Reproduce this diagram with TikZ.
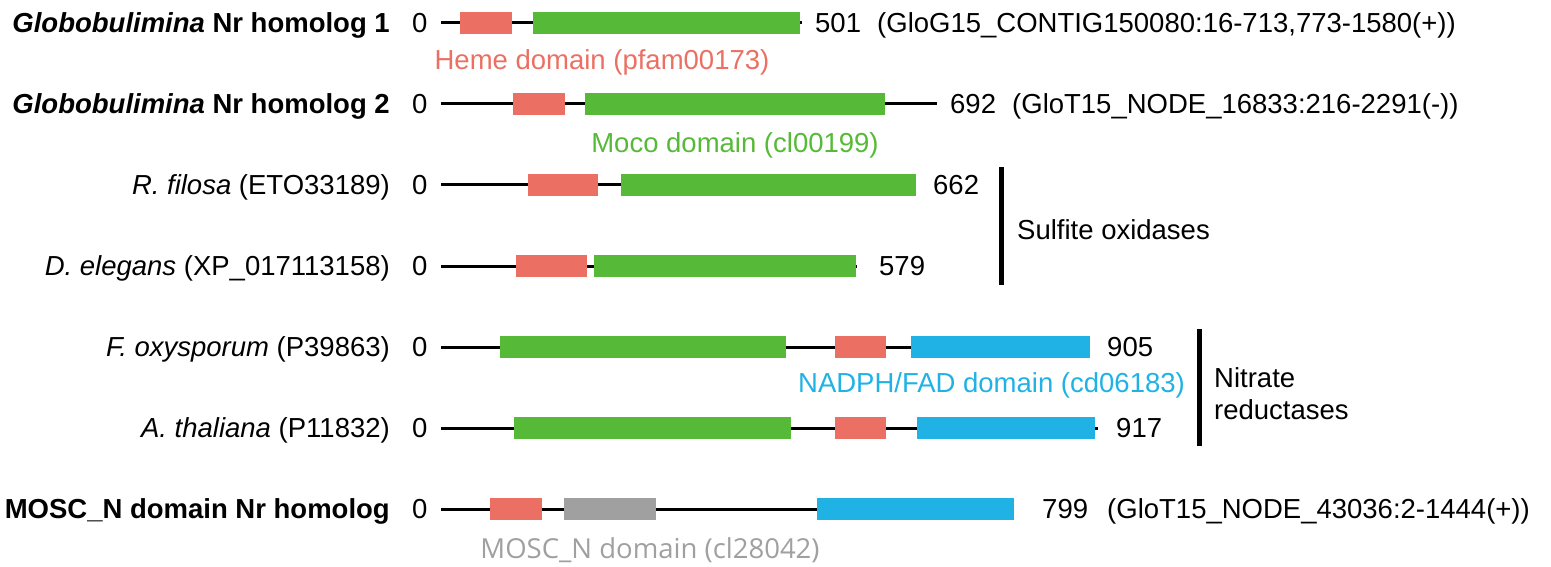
\documentclass[tikz,border=0pt]{standalone}
\usepackage{fontspec}
\setmainfont{Liberation Sans}
\newfontfamily\moscfont{Open Sans}

\definecolor{hemecol}{HTML}{EB7063}
\definecolor{mococol}{HTML}{56BA38}
\definecolor{fadcol}{HTML}{20B2E4}
\definecolor{mosccol}{HTML}{A0A0A0}
\definecolor{mosctext}{HTML}{A0A0A0}

\tikzset{
  lab/.style={inner sep=0pt,font=\fontsize{27.5}{33}\selectfont},
  orgname/.style={lab,anchor=base east},
  num/.style={lab,anchor=base west},
  backbone/.style={line width=3pt},
  heme/.style={fill=hemecol},
  moco/.style={fill=mococol},
  fad/.style={fill=fadcol},
  mosc/.style={fill=mosccol},
  grpbar/.style={line width=5pt}
}

\begin{document}
\begin{tikzpicture}[x=1pt,y=-1pt]
        \useasboundingbox (0,0) rectangle (1551,567);

        % Globobulimina homolog 1
        \node[orgname] (name1) at (390,32.5) {\textbf{\textit{Globobulimina} Nr homolog 1}};
        \node[num] (zero1) at (412,32.5) {0};
        \draw[backbone] (441,23) -- (802,23);
        \fill[heme] (460,12) rectangle (512,34);
        \fill[moco] (533,12) rectangle (800,34);
        \node[num] (len1) at (815,32.5) {501};
        \node[num] (src1) at (877,32.5) {(GloG15\_CONTIG150080:16-713,773-1580(+))};
        \node[lab,anchor=base,text=hemecol] (hemelab) at (602,70) {Heme domain (pfam00173)};

        % Globobulimina homolog 2
        \node[orgname] (name2) at (390,113.5) {\textbf{\textit{Globobulimina} Nr homolog 2}};
        \node[num] (zero2) at (412,113.5) {0};
        \draw[backbone] (441,104) -- (937,104);
        \fill[heme] (513,93) rectangle (565,115);
        \fill[moco] (585,93) rectangle (885,115);
        \node[num] (len2) at (950,113.5) {692};
        \node[num] (src2) at (1012,113.5) {(GloT15\_NODE\_16833:216-2291(-))};
        \node[lab,anchor=base,text=mococol] (mocolab) at (735,153) {Moco domain (cl00199)};

        % sulfite oxidases
        \node[orgname] (name3) at (390,194.5) {\textit{R. filosa} (ETO33189)};
        \node[num] (zero3) at (412,194.5) {0};
        \draw[backbone] (441,185) -- (916,185);
        \fill[heme] (528,174) rectangle (598,196);
        \fill[moco] (621,174) rectangle (916,196);
        \node[num] (len3) at (933,194.5) {662};

        \node[orgname] (name4) at (390,275.5) {\textit{D. elegans} (XP\_017113158)};
        \node[num] (zero4) at (412,275.5) {0};
        \draw[backbone] (441,266) -- (857,266);
        \fill[heme] (516,255) rectangle (587,277);
        \fill[moco] (594,255) rectangle (856,277);
        \node[num] (len4) at (879,275.5) {579};

        \draw[grpbar] (1001.5,167) -- (1001.5,285);
        \node[num] (sulfite) at (1017,239) {Sulfite oxidases};

        % nitrate reductases
        \node[orgname] (name5) at (390,356.5) {\textit{F. oxysporum} (P39863)};
        \node[num] (zero5) at (412,356.5) {0};
        \draw[backbone] (441,347) -- (1090,347);
        \fill[moco] (500,336) rectangle (786,358);
        \fill[heme] (835,336) rectangle (886,358);
        \fill[fad] (911,336) rectangle (1090,358);
        \node[num] (len5) at (1107,356.5) {905};
        \node[lab,anchor=base,text=fadcol] (fadlab) at (991.5,392) {NADPH/FAD domain (cd06183)};

        \node[orgname] (name6) at (390,437.5) {\textit{A. thaliana} (P11832)};
        \node[num] (zero6) at (412,437.5) {0};
        \draw[backbone] (441,428) -- (1098,428);
        \fill[moco] (514,417) rectangle (791,439);
        \fill[heme] (835,417) rectangle (886,439);
        \fill[fad] (917,417) rectangle (1095,439);
        \node[num] (len6) at (1116,437.5) {917};

        \draw[grpbar] (1199,329) -- (1199,446);
        \node[num] (nitrate) at (1214,387) {Nitrate};
        \node[num] (reductase) at (1214,419) {reductases};

        % MOSC_N homolog
        \node[orgname] (name7) at (390,518.5) {\textbf{MOSC\_N domain Nr homolog}};
        \node[num] (zero7) at (412,518.5) {0};
        \draw[backbone] (441,509) -- (1014,509);
        \fill[heme] (490,498) rectangle (542,520);
        \fill[mosc] (564,498) rectangle (656,520);
        \fill[fad] (817,498) rectangle (1014,520);
        \node[num] (len7) at (1042,518.5) {799};
        \node[num] (src7) at (1107,518.5) {(GloT15\_NODE\_43036:2-1444(+))};
        \node[inner sep=0pt,anchor=base,text=mosctext,font=\moscfont\fontsize{27.5}{33}\selectfont] (mosclab) at (650,558) {MOSC\_N domain (cl28042)};
      \end{tikzpicture}
\end{document}
